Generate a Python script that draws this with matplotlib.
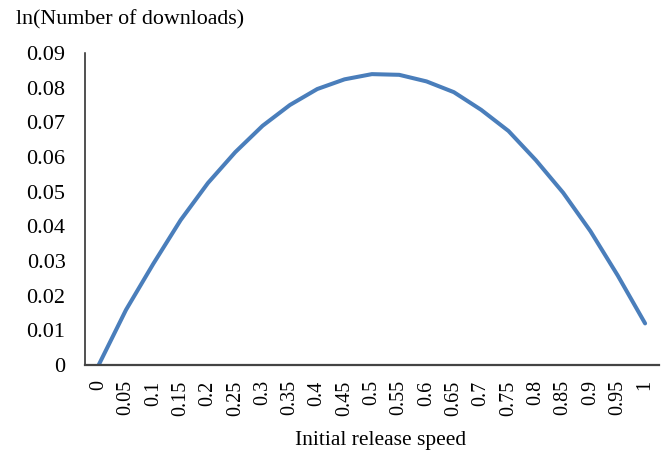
import matplotlib
matplotlib.use("Agg")
import matplotlib.pyplot as plt

# category labels on x axis
speeds = ["0", "0.05", "0.1", "0.15", "0.2", "0.25", "0.3", "0.35", "0.4", "0.45",
          "0.5", "0.55", "0.6", "0.65", "0.7", "0.75", "0.8", "0.85", "0.9", "0.95", "1"]
# ln(number of downloads)
ln_downloads = [0.0, 0.0159, 0.0292, 0.0418, 0.0525, 0.0614, 0.0690, 0.0750, 0.0796, 0.0824,
                0.0839, 0.0837, 0.0818, 0.0787, 0.0736, 0.0675, 0.0591, 0.0497, 0.0386, 0.0258, 0.0120]

plt.rcParams['font.family'] = ['Liberation Serif', 'DejaVu Serif']

fig = plt.figure(figsize=(6.61, 4.54), dpi=100)
ax = fig.add_axes([0.1286, 0.196, 0.868, 0.6873])

x = range(len(speeds))
ax.plot(x, ln_downloads, color='#4A7EBB', linewidth=2.9, solid_capstyle='round')

ax.set_xlim(-0.5, len(speeds) - 0.5)
ax.set_ylim(0, 0.09)
ax.set_yticks([i / 100 for i in range(10)])
ax.set_yticklabels(["0"] + [f"{i / 100:.2f}" for i in range(1, 10)], fontsize=16)
ax.set_xticks(list(x))
ax.set_xticklabels(speeds, rotation=90, fontsize=14.5)
ax.tick_params(axis='y', length=0, pad=14)
ax.tick_params(axis='x', length=0, pad=11)

for side in ['top', 'right']:
    ax.spines[side].set_visible(False)
ax.spines['left'].set_color('#222222')
ax.spines['bottom'].set_color('#444444')
ax.spines['left'].set_linewidth(1.1)
ax.spines['bottom'].set_linewidth(1.6)

fig.text(0.024, 0.956, "ln(Number of downloads)", fontsize=15.8, va='center', ha='left')
fig.text(0.576, 0.029, "Initial release speed", fontsize=15.5, va='center', ha='center')

fig.savefig("out.png", dpi=100)
